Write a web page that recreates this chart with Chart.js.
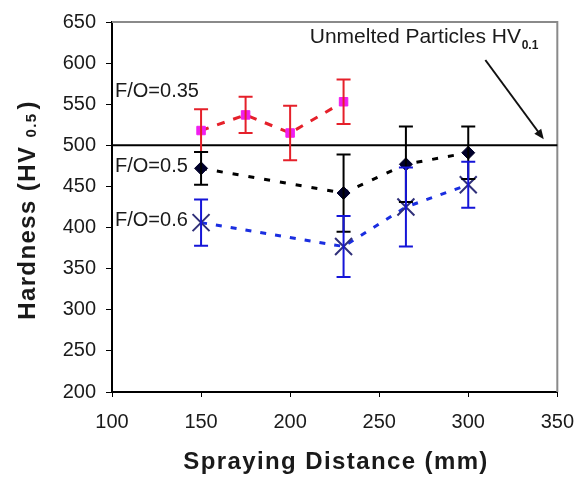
<!DOCTYPE html>
<html>
<head>
<meta charset="utf-8">
<script src="https://cdn.jsdelivr.net/npm/chart.js@4.4.0/dist/chart.umd.min.js"></script>
<style>
  html, body { margin: 0; padding: 0; background: #fff; }
  #wrap { width: 587px; height: 477px; }
</style>
</head>
<body>
<div id="wrap"><canvas id="chart"></canvas></div>
<script>
// values
const xRed = [150, 175, 200, 230];
const yRed = [518, 537, 515, 553];
const errRed = [26, 22, 33, 27];

const xBlack = [150, 230, 265, 300];
const yBlack = [472, 442, 477, 491];
const errBlack = [20, 47, 46, 32];

const xBlue = [150, 230, 265, 300];
const yBlue = [406, 377, 425, 452];
const errBlue = [28, 37, 48, 28];

const unmeltedHV = 500;
const xTicks = [100, 150, 200, 250, 300, 350];
const yTicks = [200, 250, 300, 350, 400, 450, 500, 550, 600, 650];

const FONT = "'Liberation Sans', Arial, sans-serif";

function points(xs, ys) {
    return xs.map((x, i) => ({ x: x, y: ys[i] }));
}

// error bars, drawn with the chart's own scales
const errorBars = {
    id: 'errorBars',
    afterDatasetsDraw(chart) {
        const { ctx, scales: { x, y } } = chart;
        chart.data.datasets.forEach(ds => {
            ctx.save();
            ctx.strokeStyle = ds.errColor;
            ctx.lineWidth = 2;
            ds.data.forEach((p, i) => {
                const px = x.getPixelForValue(p.x);
                const top = y.getPixelForValue(p.y + ds.err[i]);
                const bot = y.getPixelForValue(p.y - ds.err[i]);
                ctx.beginPath();
                ctx.moveTo(px, top); ctx.lineTo(px, bot);
                ctx.moveTo(px - 7, top); ctx.lineTo(px + 7, top);
                ctx.moveTo(px - 7, bot); ctx.lineTo(px + 7, bot);
                ctx.stroke();
            });
            ctx.restore();
        });
    }
};

// frame, reference line, arrow and labels
const decorations = {
    id: 'decorations',
    beforeDatasetsDraw(chart) {
        const { ctx, chartArea: a, scales: { y } } = chart;
        ctx.save();
        ctx.strokeStyle = '#8a8a8a';
        ctx.lineWidth = 2;
        ctx.beginPath();
        ctx.moveTo(a.left, a.top); ctx.lineTo(a.right, a.top); ctx.lineTo(a.right, a.bottom);
        ctx.stroke();
        const hy = y.getPixelForValue(unmeltedHV);
        ctx.strokeStyle = '#000';
        ctx.beginPath();
        ctx.moveTo(a.left, hy); ctx.lineTo(a.right, hy);
        ctx.stroke();
        ctx.restore();
    },
    afterDraw(chart) {
        const { ctx, scales: { x, y } } = chart;
        ctx.save();

        // arrow
        const x1 = x.getPixelForValue(309.6), y1 = y.getPixelForValue(603.8);
        const x2 = x.getPixelForValue(342.4), y2 = y.getPixelForValue(507.3);
        const ang = Math.atan2(y2 - y1, x2 - x1);
        ctx.strokeStyle = '#111';
        ctx.fillStyle = '#111';
        ctx.lineWidth = 2;
        ctx.beginPath();
        ctx.moveTo(x1, y1);
        ctx.lineTo(x2 - 6 * Math.cos(ang), y2 - 6 * Math.sin(ang));
        ctx.stroke();
        ctx.beginPath();
        ctx.moveTo(x2, y2);
        ctx.lineTo(x2 - 11 * Math.cos(ang - 0.4), y2 - 11 * Math.sin(ang - 0.4));
        ctx.lineTo(x2 - 11 * Math.cos(ang + 0.4), y2 - 11 * Math.sin(ang + 0.4));
        ctx.closePath();
        ctx.fill();

        // text labels
        ctx.fillStyle = '#1a1a1a';
        ctx.textAlign = 'left';
        ctx.textBaseline = 'middle';
        ctx.font = '20px ' + FONT;
        ctx.fillText('F/O=0.35', x.getPixelForValue(101.7), y.getPixelForValue(565));
        ctx.fillText('F/O=0.5', x.getPixelForValue(101.7), y.getPixelForValue(474));
        ctx.fillText('F/O=0.6', x.getPixelForValue(101.7), y.getPixelForValue(408.5));

        ctx.textBaseline = 'alphabetic';
        ctx.font = '21px ' + FONT;
        ctx.fillText('Unmelted Particles HV', x.getPixelForValue(211), y.getPixelForValue(625));
        ctx.font = 'bold 12px ' + FONT;
        ctx.fillText('0.1', x.getPixelForValue(330), y.getPixelForValue(617));

        // x axis title
        ctx.letterSpacing = '1.4px';
        ctx.font = 'bold 24px ' + FONT;
        ctx.textAlign = 'center';
        ctx.fillText('Spraying Distance (mm)', 336, 469);

        // y axis title with subscript
        ctx.translate(35, 210);
        ctx.rotate(-Math.PI / 2);
        ctx.textAlign = 'left';
        const main = 'Hardness (HV ';
        const sub = '0.5';
        ctx.font = 'bold 24px ' + FONT;
        const w1 = ctx.measureText(main).width;
        const w3 = ctx.measureText(')').width;
        ctx.font = 'bold 15px ' + FONT;
        const w2 = ctx.measureText(sub).width;
        const start = -(w1 + w2 + w3 + 3) / 2;
        ctx.font = 'bold 24px ' + FONT;
        ctx.fillText(main, start, 0);
        ctx.font = 'bold 15px ' + FONT;
        ctx.fillText(sub, start + w1, 1);
        ctx.font = 'bold 24px ' + FONT;
        ctx.fillText(')', start + w1 + w2 + 3, 0);
        ctx.restore();
    }
};

new Chart(document.getElementById('chart'), {
    type: 'scatter',
    data: {
        datasets: [
            {
                label: 'F/O=0.35',
                data: points(xRed, yRed),
                err: errRed,
                errColor: '#e5202a',
                showLine: true,
                borderColor: '#e5202a',
                borderWidth: 3,
                borderDash: [8, 9],
                pointStyle: 'rect',
                pointRadius: 6,
                pointBackgroundColor: '#f01ef0',
                pointBorderColor: '#f01ef0',
                pointBorderWidth: 1
            },
            {
                label: 'F/O=0.5',
                data: points(xBlack, yBlack),
                err: errBlack,
                errColor: '#000000',
                showLine: true,
                borderColor: '#000000',
                borderWidth: 3,
                borderDash: [6, 10],
                pointStyle: 'rectRot',
                pointRadius: 6.5,
                pointBackgroundColor: '#00002a',
                pointBorderColor: '#00002a',
                pointBorderWidth: 1
            },
            {
                label: 'F/O=0.6',
                data: points(xBlue, yBlue),
                err: errBlue,
                errColor: '#1515d8',
                showLine: true,
                borderColor: '#1a2ee0',
                borderWidth: 3,
                borderDash: [6, 9],
                pointStyle: 'crossRot',
                pointRadius: 12,
                pointBorderColor: '#30307a',
                pointBorderWidth: 2
            }
        ]
    },
    options: {
        responsive: true,
        maintainAspectRatio: false,
        animation: false,
        layout: { padding: { top: 22, right: 25, left: 0, bottom: 0 } },
        plugins: {
            legend: { display: false },
            tooltip: { enabled: false }
        },
        scales: {
            x: {
                type: 'linear',
                min: 100,
                max: 350,
                afterBuildTicks: s => { s.ticks = xTicks.map(v => ({ value: v })); },
                afterFit: s => { s.height = 85; },
                border: { display: true, color: '#000', width: 2 },
                grid: { drawOnChartArea: false, drawTicks: true, tickLength: 5, color: '#000', lineWidth: 1 },
                ticks: { color: '#1a1a1a', font: { family: FONT, size: 20 }, padding: 13, maxRotation: 0 }
            },
            y: {
                type: 'linear',
                min: 200,
                max: 650,
                afterBuildTicks: s => { s.ticks = yTicks.map(v => ({ value: v })); },
                afterFit: s => { s.width = 112; },
                border: { display: true, color: '#000', width: 2 },
                grid: { drawOnChartArea: false, drawTicks: true, tickLength: 6, color: '#000', lineWidth: 1 },
                ticks: { color: '#1a1a1a', font: { family: FONT, size: 20 }, padding: 10 }
            }
        }
    },
    plugins: [decorations, errorBars]
});
</script>
</body>
</html>
